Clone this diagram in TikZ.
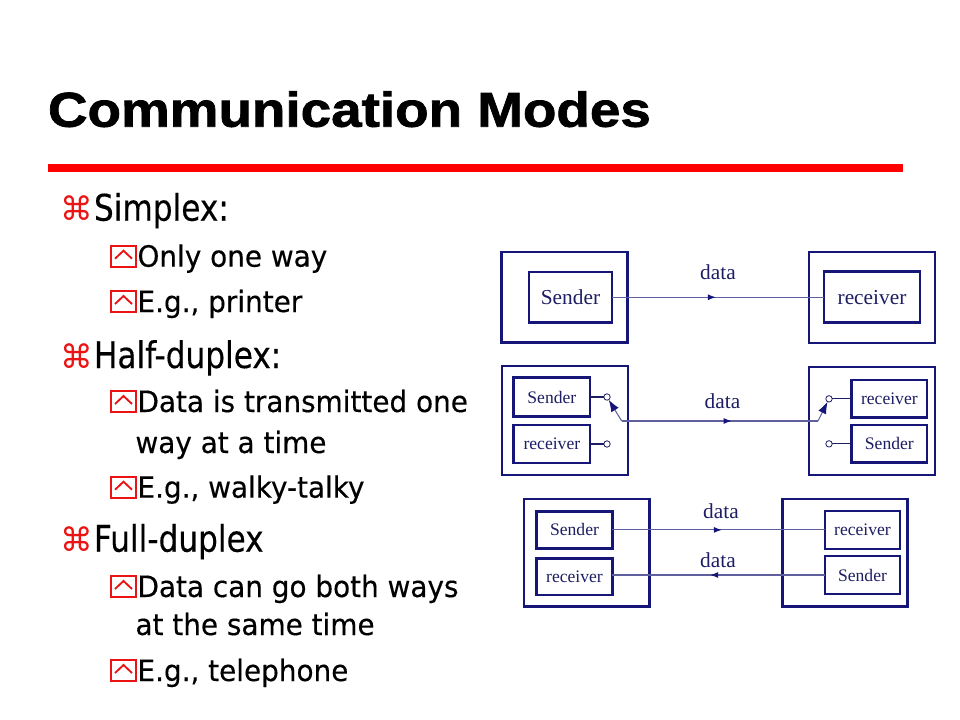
\documentclass[tikz,border=0pt]{standalone}
\usepackage{fontspec}
\setmainfont{Liberation Serif}
\newfontfamily\bodyf{DejaVu Sans}[FakeStretch=0.95,FakeBold=0.3]
\newfontfamily\bodyone{DejaVu Sans}[FakeStretch=0.85,FakeBold=0.3]
\newfontfamily\symf{DejaVu Sans}
\newfontfamily\titlef{Liberation Sans}[FakeStretch=1.12,FakeBold=1.5]
\usetikzlibrary{arrows.meta,decorations.markings}
\definecolor{bred}{RGB}{235,20,20}
\definecolor{navyb}{RGB}{22,22,120}
\definecolor{navyt}{RGB}{30,30,100}
\definecolor{lineb}{RGB}{95,95,160}
\tikzset{
  every node/.style={inner sep=0pt, outer sep=0pt},
  lvlone/.style={anchor=base west, font=\bodyone\fontsize{27.5}{33}\selectfont},
  lvltwo/.style={anchor=base west, font=\bodyf\fontsize{22}{27}\selectfont},
  bul/.style={anchor=base west, text=bred, font=\symf\fontsize{24.5}{29}\selectfont},
  subbx/.style={draw=bred, line width=1.4pt},
  subbul/.pic={\draw[subbx] (0,-21) rectangle (25,0); \draw[subbx] (4,-8) -- (12.5,-16) -- (21,-8);},
  obox/.style={draw=navyb, line width=1.9pt},
  ibox/.style={draw=navyb, line width=1.9pt, text=navyt},
  bigt/.style={font=\fontsize{16}{19}\selectfont},
  smallt/.style={font=\fontsize{13.2}{16}\selectfont},
  conn/.style={draw=lineb, line width=0.8pt},
  lbl/.style={anchor=base, text=navyt, font=\fontsize{16}{19}\selectfont},
  term/.style={circle, draw=navyt, line width=0.6pt, minimum size=4.8pt, fill=white},
  midarrow/.style={postaction={decorate}, decoration={markings, mark=at position #1 with {\arrow[navyb]{Latex[length=6pt,width=4.5pt]}}}},
  swtip/.style={-{Latex[length=9pt,width=6.5pt,color=navyb]}}
}
\begin{document}
\begin{tikzpicture}[x=0.75pt,y=-0.75pt]
\useasboundingbox (0,0) rectangle (960,720);
\fill[white] (0,0) rectangle (960,720);
% title
\node[anchor=base west, font=\titlef\bfseries\fontsize{36.7}{40}\selectfont] (title) at (48,126.7) {Communication Modes};
\fill[red] (48.3,164.3) rectangle (903,171.7);
% bullets
\node[bul] (b1) at (60.5,220.7) {⌘};
\node[lvlone] (t1) at (94,220.7) {Simplex:};
\pic at (111,266.7) {subbul};
\node[lvltwo] (t11) at (137.5,266.7) {Only one way};
\pic at (111,312) {subbul};
\node[lvltwo] (t12) at (137.5,312) {E.g., printer};
\node[bul] (b2) at (60.5,368) {⌘};
\node[lvlone] (t2) at (94,368) {Half-duplex:};
\pic at (111,412) {subbul};
\node[lvltwo] (t21) at (137.5,412) {Data is transmitted one};
\node[lvltwo] (t21b) at (135.5,453) {way at a time};
\pic at (111,497.7) {subbul};
\node[lvltwo] (t22) at (137.5,497.7) {E.g., walky-talky};
\node[bul] (b3) at (60.5,551.7) {⌘};
\node[lvlone] (t3) at (94,551.7) {Full-duplex};
\pic at (111,597) {subbul};
\node[lvltwo] (t31) at (137.5,597) {Data can go both ways};
\node[lvltwo] (t31b) at (135.5,635) {at the same time};
\pic at (111,681) {subbul};
\node[lvltwo] (t32) at (137.5,681) {E.g., telephone};
% ---------- row 1: simplex
\node[obox, minimum width=94.5pt, minimum height=68pt] (oL1) at (564.7,297.3) {};
\node[ibox, bigt, minimum width=62.25pt, minimum height=37.9pt] (s1) at (570.5,297.25) {Sender};
\node[obox, minimum width=94.5pt, minimum height=68.25pt] (oR1) at (872,297.5) {};
\node[ibox, bigt, minimum width=72pt, minimum height=38.25pt] (r1) at (872,297.25) {receiver};
\draw[conn, midarrow=0.49] (s1.east) -- (r1.west);
\node[lbl] (d1) at (718,280) {data};
% ---------- row 2: half duplex
\node[obox, minimum width=94.5pt, minimum height=81.75pt] (oL2) at (565,420.5) {};
\node[ibox, smallt, minimum width=57.2pt, minimum height=29.25pt] (s2) at (551.85,397) {Sender};
\node[ibox, smallt, minimum width=57.2pt, minimum height=28.5pt] (r2) at (551.85,444) {receiver};
\node[obox, minimum width=94.5pt, minimum height=81pt] (oR2) at (872,421) {};
\node[ibox, smallt, minimum width=56.5pt, minimum height=28.3pt] (r2R) at (889.35,398.85) {receiver};
\node[ibox, smallt, minimum width=56.5pt, minimum height=28.3pt] (s2R) at (889.35,443.85) {Sender};
\node[term] (cs2) at (607,397) {};
\node[term] (cr2) at (607,444) {};
\node[term] (cr2R) at (829,398.85) {};
\node[term] (cs2R) at (829,443.85) {};
\draw[conn, draw=navyt] (s2.east) -- (cs2.west);
\draw[conn, draw=navyt] (r2.east) -- (cr2.west);
\draw[conn, draw=navyt] (r2R.west) -- (cr2R.east);
\draw[conn, draw=navyt] (s2R.west) -- (cs2R.east);
\coordinate (pL) at (621.7,421);
\coordinate (pR) at (818,421);
\draw[conn, swtip] (pL) -- (cs2);
\draw[conn, midarrow=0.56] (pL) -- (pR);
\draw[conn, swtip] (pR) -- (cr2R);
\node[lbl] (d2) at (722.5,408) {data};
% ---------- row 3: full duplex
\node[obox, minimum width=94.3pt, minimum height=80.8pt] (oL3) at (586.85,552.85) {};
\node[ibox, smallt, minimum width=56.7pt, minimum height=28pt] (s3) at (574.5,529.9) {Sender};
\node[ibox, smallt, minimum width=56.7pt, minimum height=27.5pt] (r3) at (574.5,576.65) {receiver};
\node[obox, minimum width=93.5pt, minimum height=80.8pt] (oR3) at (845,552.85) {};
\node[ibox, smallt, minimum width=56.25pt, minimum height=28.5pt] (r3R) at (862.5,530) {receiver};
\node[ibox, smallt, minimum width=56.25pt, minimum height=28.3pt] (s3R) at (862.5,575) {Sender};
\draw[conn, midarrow=0.515] (s3.east) -- (s3.east -| r3R.west);
\draw[conn, midarrow=0.54] (s3R.west) -- (s3R.west -| r3.east);
\node[lbl] (d3) at (721,518) {data};
\node[lbl] (d4) at (718,567) {data};
\end{tikzpicture}
\end{document}
